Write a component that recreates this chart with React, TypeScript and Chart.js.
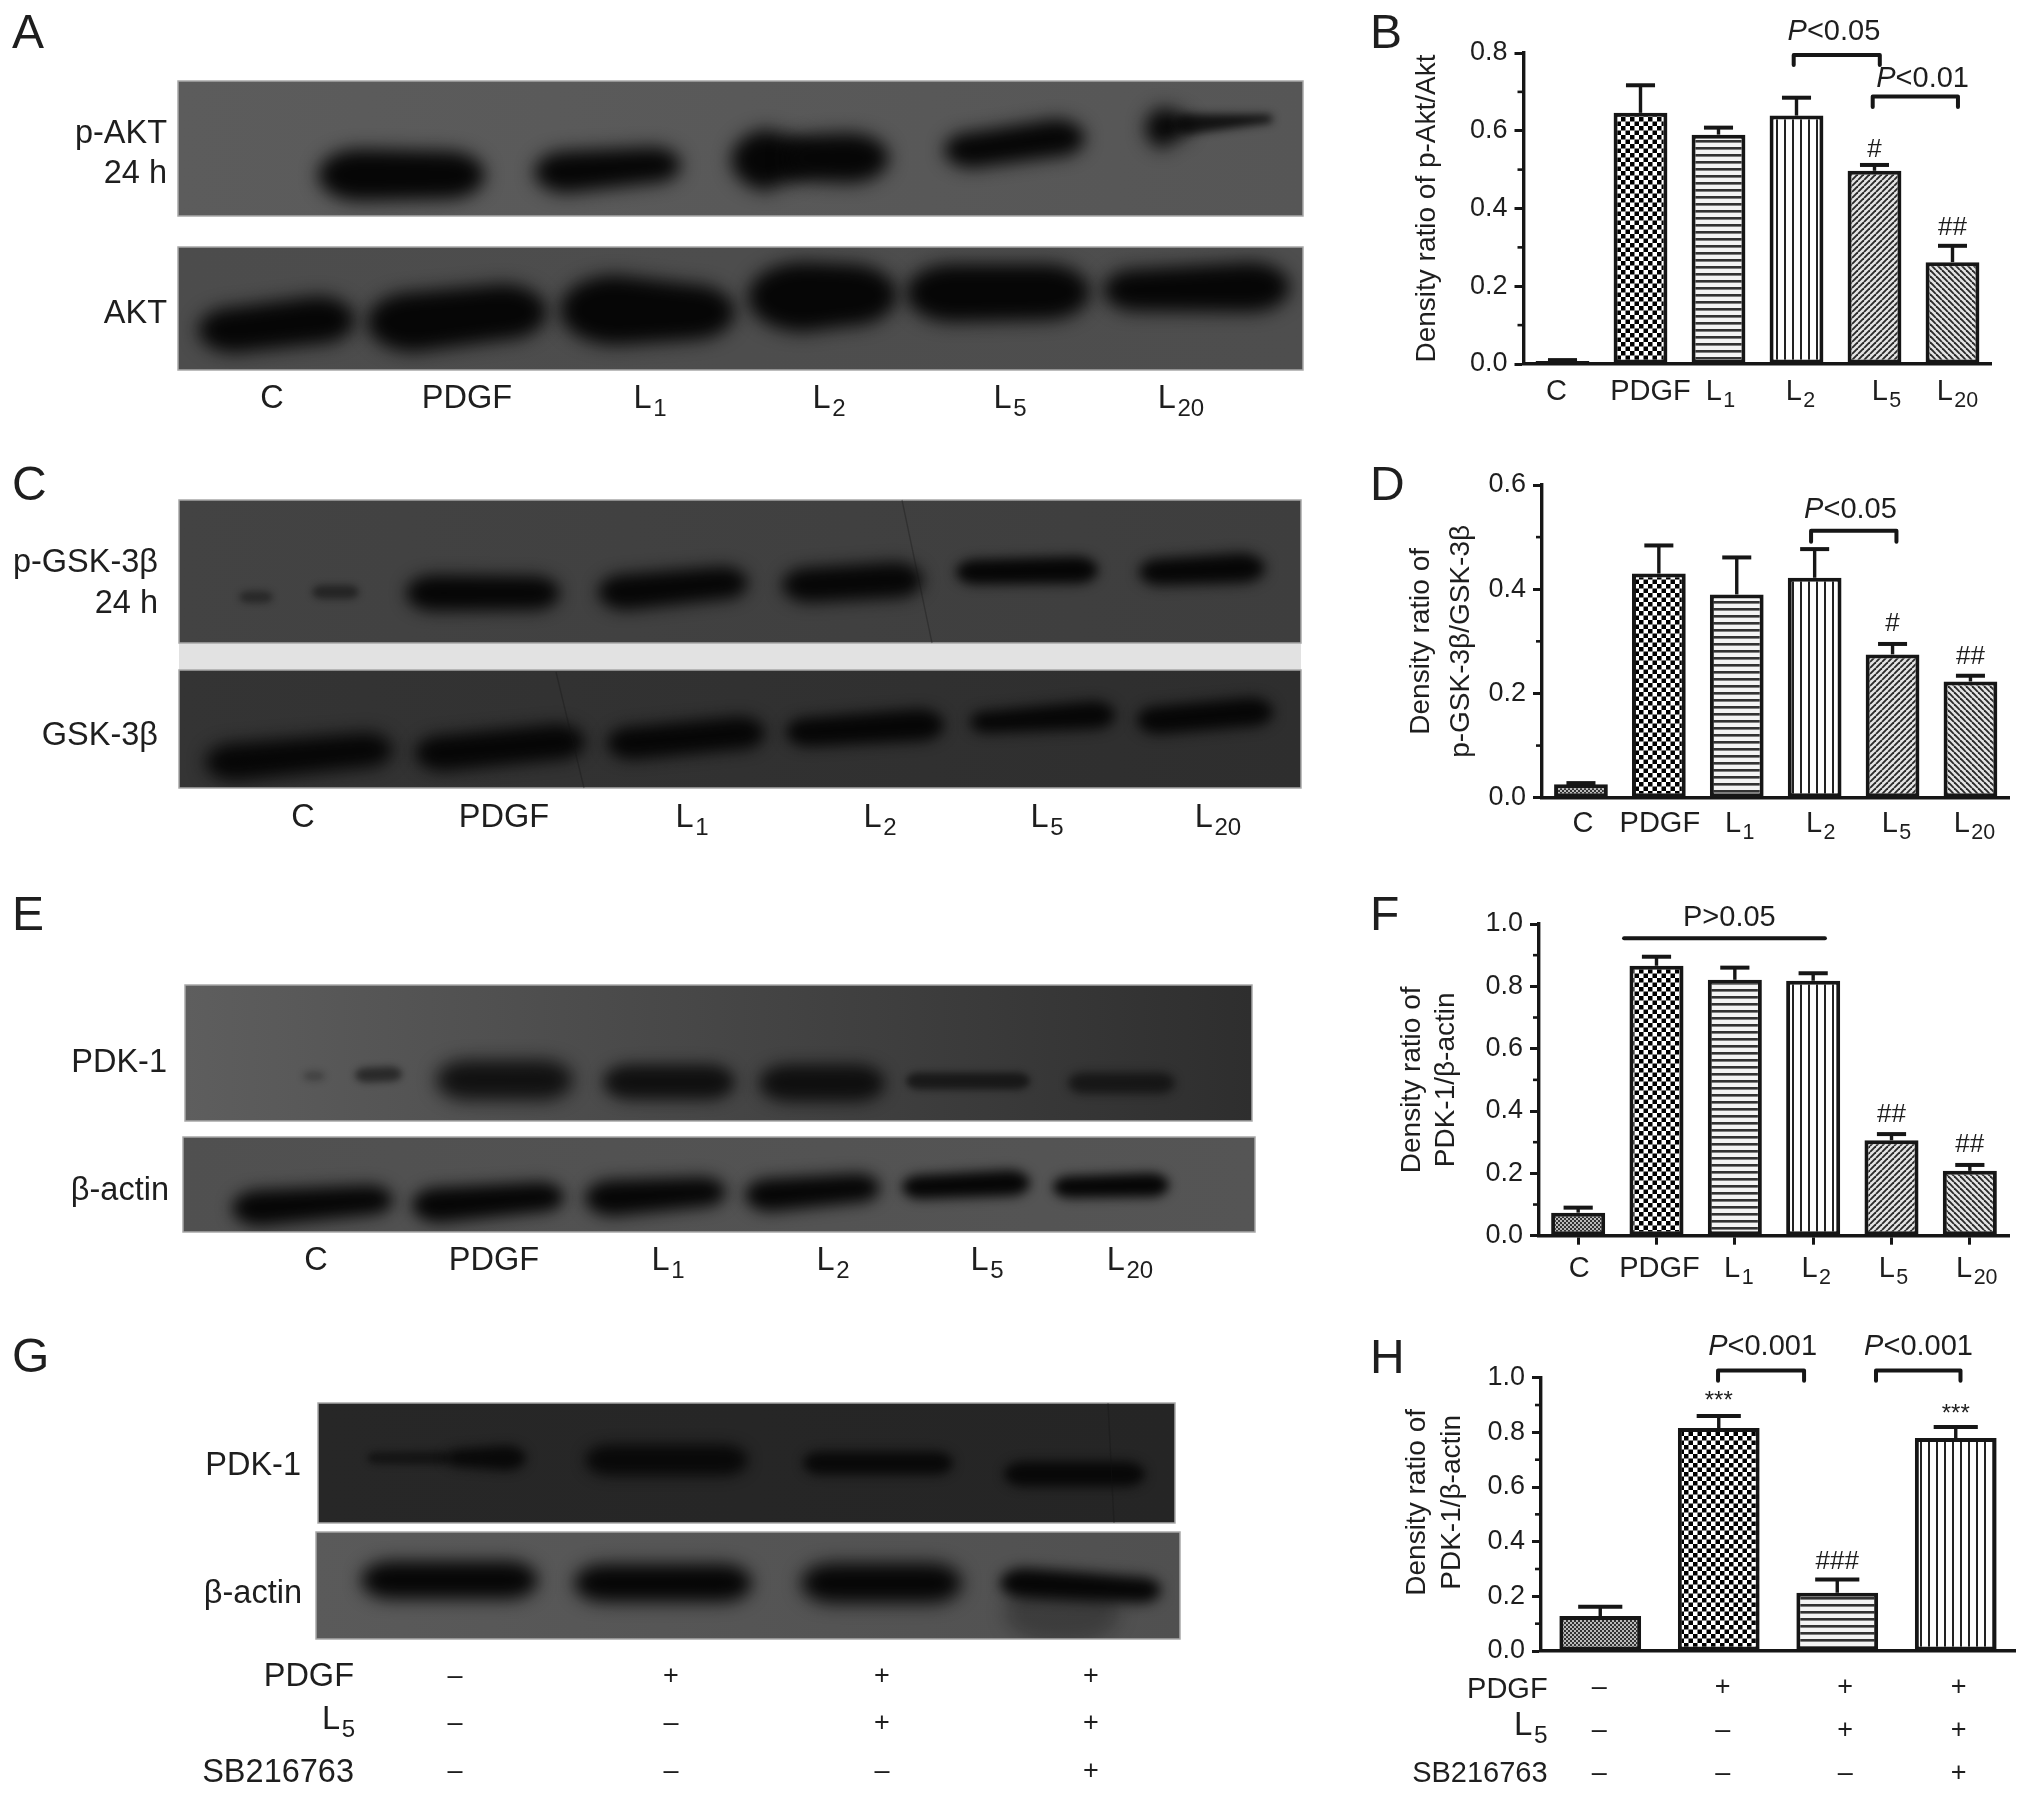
import React, { useEffect, useRef } from "react";
import { Chart, registerables } from "chart.js";

Chart.register(...registerables);

/* ---------- data ---------- */
const doseGroups = ["C", "PDGF", "L₁", "L₂", "L₅", "L₂₀"];
const treatmentGroups = ["Control", "PDGF", "PDGF + L₅", "PDGF + L₅ + SB216763"];

const pAktRatio = [0.008, 0.646, 0.59, 0.639, 0.497, 0.262];
const pAktUpper = [0.01, 0.717, 0.608, 0.685, 0.512, 0.304];

const pGskRatio = [0.026, 0.43, 0.39, 0.422, 0.275, 0.223];
const pGskUpper = [0.028, 0.484, 0.461, 0.477, 0.295, 0.234];

const pdkRatio = [0.074, 0.866, 0.821, 0.818, 0.306, 0.208];
const pdkUpper = [0.09, 0.895, 0.86, 0.842, 0.326, 0.227];

const pdkSbRatio = [0.128, 0.816, 0.213, 0.779];
const pdkSbUpper = [0.162, 0.86, 0.262, 0.82];

const pdgfSigns = ["–", "+", "+", "+"];
const l5Signs = ["–", "–", "+", "+"];
const sbSigns = ["–", "–", "–", "+"];

/* blot bands: x0, x1, yLeft, yRight, heightLeft, heightRight, darkness */
type Band = number[];
const pAktBands: Band[] = [
  [318, 485, 175, 175, 52, 48, 1], [534, 681, 172, 165, 42, 36, 1],
  [731, 815, 160, 159, 62, 52, 1], [785, 889, 158, 158, 48, 50, 1],
  [944, 1085, 150, 138, 36, 38, 1], [1145, 1190, 128, 126, 42, 32, 1],
  [1175, 1273, 124, 119, 20, 9, 0.85],
];
const aktBands: Band[] = [
  [198, 355, 330, 320, 46, 48, 1], [367, 547, 322, 312, 60, 56, 1],
  [560, 735, 310, 312, 70, 56, 1], [748, 897, 297, 295, 70, 62, 1],
  [906, 1090, 293, 292, 58, 56, 1], [1103, 1290, 290, 287, 42, 50, 1],
];
const pGskBands: Band[] = [
  [239, 273, 597, 597, 12, 12, 0.45], [312, 359, 592, 592, 14, 14, 0.5],
  [406, 560, 593, 593, 36, 34, 1], [598, 748, 592, 583, 36, 33, 1],
  [782, 923, 585, 580, 35, 36, 1], [956, 1098, 572, 570, 25, 27, 1],
  [1139, 1265, 572, 568, 27, 30, 1],
];
const gskBands: Band[] = [
  [205, 393, 762, 750, 38, 35, 1], [415, 585, 753, 742, 36, 36, 1],
  [607, 765, 743, 733, 33, 33, 1], [786, 944, 732, 725, 29, 32, 1],
  [970, 1115, 722, 715, 22, 28, 1], [1137, 1273, 720, 712, 28, 29, 1],
];
const pdkBands: Band[] = [
  [303, 325, 1076, 1076, 9, 9, 0.3], [355, 402, 1075, 1074, 15, 15, 0.55],
  [436, 573, 1080, 1080, 40, 40, 0.85], [603, 735, 1082, 1082, 35, 35, 0.85],
  [759, 885, 1083, 1083, 37, 37, 0.85], [906, 1030, 1081, 1081, 17, 17, 0.65],
  [1068, 1175, 1083, 1083, 21, 21, 0.65],
];
const actinBands: Band[] = [
  [232, 393, 1208, 1200, 36, 30, 1], [412, 564, 1205, 1197, 35, 30, 1],
  [585, 726, 1198, 1192, 36, 30, 1], [745, 880, 1195, 1188, 33, 29, 1],
  [902, 1030, 1187, 1183, 24, 26, 1], [1053, 1169, 1187, 1185, 22, 24, 1],
];
const pdkSbBands: Band[] = [
  [367, 450, 1458, 1458, 12, 14, 0.55], [445, 526, 1458, 1458, 18, 25, 0.9],
  [585, 748, 1460, 1460, 31, 31, 0.9], [803, 953, 1463, 1463, 23, 23, 0.9],
  [1004, 1145, 1474, 1474, 25, 25, 0.95],
];
const actinSbBands: Band[] = [
  [1004, 1120, 1612, 1612, 60, 60, 0.28],
  [361, 538, 1580, 1580, 38, 38, 1], [574, 752, 1583, 1583, 38, 38, 1],
  [801, 962, 1583, 1583, 40, 40, 1], [1000, 1161, 1583, 1590, 30, 26, 1],
];

/* ---------- patterns ---------- */
function tile(size: number, paint: (c: CanvasRenderingContext2D, s: number) => void) {
  const cv = document.createElement("canvas");
  cv.width = size;
  cv.height = size;
  const c = cv.getContext("2d")!;
  paint(c, size);
  return c.createPattern(cv, "repeat")!;
}
const INK = "#161616";
function checker(size: number, fg: string, bg: string) {
  return tile(size, (c, s) => {
    c.fillStyle = bg;
    c.fillRect(0, 0, s, s);
    c.fillStyle = fg;
    c.fillRect(0, 0, s / 2, s / 2);
    c.fillRect(s / 2, s / 2, s / 2, s / 2);
  });
}
function hStripes() {
  return tile(7, (c, s) => {
    c.fillStyle = "#f4f4f4";
    c.fillRect(0, 0, s, s);
    c.fillStyle = "#333";
    c.fillRect(0, 0, s, 2.6);
  });
}
function vStripes() {
  return tile(8, (c, s) => {
    c.fillStyle = "#fff";
    c.fillRect(0, 0, s, s);
    c.fillStyle = "#222";
    c.fillRect(0, 0, 2, s);
  });
}
function diag(forward: boolean) {
  return tile(6, (c, s) => {
    c.fillStyle = "#e4e4e4";
    c.fillRect(0, 0, s, s);
    c.strokeStyle = "#2a2a2a";
    c.lineWidth = 1.9;
    for (let k = -s; k <= s; k += s) {
      c.beginPath();
      if (forward) {
        c.moveTo(k, s);
        c.lineTo(k + s, 0);
      } else {
        c.moveTo(k, 0);
        c.lineTo(k + s, s);
      }
      c.stroke();
    }
  });
}

/* ---------- text helper: subscripts are drawn at a smaller size, lowered ---------- */
const FAMILY = '"Liberation Sans", Arial, sans-serif';
const TEXT = "#1e1e1e";
const SUBS = "₀₁₂₃₄₅₆₇₈₉";

function say(
  c: CanvasRenderingContext2D, text: string, x: number, y: number, size: number,
  align: CanvasTextAlign = "center", baseline: CanvasTextBaseline = "alphabetic", style = "",
) {
  c.textBaseline = baseline;
  c.fillStyle = TEXT;
  const first = [...text].findIndex((ch) => SUBS.includes(ch));
  if (first < 0) {
    c.font = `${style} ${size}px ${FAMILY}`;
    c.textAlign = align;
    c.fillText(text, x, y);
    return;
  }
  const main = text.slice(0, first);
  const sub = [...text.slice(first)].map((ch) => String(SUBS.indexOf(ch))).join("");
  const subSize = size * 0.74;
  c.textAlign = "left";
  c.font = `${style} ${size}px ${FAMILY}`;
  const mw = c.measureText(main).width;
  c.font = `${style} ${subSize}px ${FAMILY}`;
  const sw = c.measureText(sub).width;
  const gap = size * 0.05;
  const total = mw + gap + sw;
  const start = align === "right" ? x - total : align === "center" ? x - total / 2 : x;
  c.font = `${style} ${size}px ${FAMILY}`;
  c.fillText(main, start, y);
  c.font = `${style} ${subSize}px ${FAMILY}`;
  c.fillText(sub, start + mw + gap, y + size * 0.24);
}

/* ---------- bar panels ---------- */
const barPanels = [
  {
    id: "B", left: 1360, top: 0, width: 672, height: 440,
    plotLeft: 163.5, plotTop: 53, padRight: 40.5, axisBelow: 76,
    labels: doseGroups, values: pAktRatio, upper: pAktUpper, yMax: 0.8,
    title: "Density ratio of p-Akt/Akt", titleLine: 1.2, titlePad: 50,
    letterY: 48, labelDrop: 36, labelShift: [-6, 10, 2, 4, 12, 5], xTicks: false,
    brackets: [[2.964, 4.068, 0.795, 0.769], [3.977, 5.07, 0.688, 0.661]],
    pNotes: [["<0.05", 3.48, 0.854], ["<0.01", 4.617, 0.733]],
    marks: [["#", 4, 0.55], ["##", 5, 0.35]],
  },
  {
    id: "D", left: 1360, top: 440, width: 672, height: 430,
    plotLeft: 182, plotTop: 45, padRight: 22.6, axisBelow: 72.3,
    labels: doseGroups, values: pGskRatio, upper: pGskUpper, yMax: 0.6,
    title: ["Density ratio of", "p-GSK-3β/GSK-3β"], titleLine: 1.4, titlePad: 42,
    letterY: 60, labelDrop: 34, labelShift: [2, 1, 3, 6, 4, 4], xTicks: false,
    brackets: [[2.954, 4.05, 0.512, 0.491]],
    pNotes: [["<0.05", 3.46, 0.552]],
    marks: [["#", 4, 0.333], ["##", 5, 0.27]],
  },
  {
    id: "F", left: 1360, top: 870, width: 672, height: 440,
    plotLeft: 179, plotTop: 54, padRight: 23, axisBelow: 74.3,
    labels: doseGroups, values: pdkRatio, upper: pdkUpper, yMax: 1,
    title: ["Density ratio of", "PDK-1/β-actin"], titleLine: 1.22, titlePad: 35.4,
    letterY: 60, labelDrop: 41, labelShift: [1, 3, 4, 3, 2, 7], xTicks: true,
    brackets: [[0.586, 3.15, 0.954, 0.954]],
    pNotes: [],
    plainNotes: [["P>0.05", 1.93, 1.02]],
    marks: [["##", 4, 0.387], ["##", 5, 0.29]],
  },
  {
    id: "H", left: 1360, top: 1310, width: 672, height: 486,
    plotLeft: 181, plotTop: 67.7, padRight: 17, axisBelow: 145,
    labels: treatmentGroups, values: pdkSbRatio, upper: pdkSbUpper, yMax: 1,
    title: ["Density ratio of", "PDK-1/β-actin"], titleLine: 1.25, titlePad: 40,
    titleLift: 12,
    letterY: 63, labelDrop: 0, labelShift: [], xTicks: false,
    brackets: [[0.994, 1.72, 1.026, 0.989], [2.327, 3.04, 1.026, 0.989]],
    pNotes: [["<0.001", 1.37, 1.113], ["<0.001", 2.686, 1.113]],
    marks: [["###", 2, 0.325]],
    stars: [["***", 1, 0.912], ["***", 3, 0.867]],
    rows: [
      { label: "PDGF", signs: pdgfSigns, labelY: 388, signY: 378, size: 29 },
      { label: "L₅", signs: l5Signs, labelY: 425, signY: 421, size: 33 },
      { label: "SB216763", signs: sbSigns, labelY: 472, signY: 464, size: 29 },
    ],
    rowLabelX: 187.6,
    rowShift: [-1, 4, 8, 3],
  },
];

function barPlugin(p: any) {
  return {
    id: "panel" + p.id,
    afterDatasetsDraw(chart: any) {
      const c: CanvasRenderingContext2D = chart.ctx;
      const x = chart.scales.x;
      const y = chart.scales.y;
      const meta = chart.getDatasetMeta(0);
      c.save();
      // error bars
      c.strokeStyle = INK;
      p.upper.forEach((u: number, i: number) => {
        const px = x.getPixelForValue(i);
        const halfCap = meta.data[i].width * 0.27;
        const top = y.getPixelForValue(u);
        const base = y.getPixelForValue(p.values[i]);
        c.lineWidth = 3.4;
        c.beginPath();
        c.moveTo(px, base);
        c.lineTo(px, top);
        c.stroke();
        c.lineWidth = 4;
        c.beginPath();
        c.moveTo(px - halfCap, top);
        c.lineTo(px + halfCap, top);
        c.stroke();
      });
      // minor ticks
      c.lineWidth = 2.6;
      const a = chart.chartArea.left;
      for (let k = 1; k < Math.round(p.yMax * 10); k += 2) {
        const py = y.getPixelForValue(k / 10);
        c.beginPath();
        c.moveTo(a, py);
        c.lineTo(a - 6, py);
        c.stroke();
      }
      // brackets
      c.lineJoin = "round";
      c.lineCap = "round";
      c.lineWidth = 4;
      p.brackets.forEach((b: number[]) => {
        const l = x.getPixelForValue(b[0]);
        const r = x.getPixelForValue(b[1]);
        c.beginPath();
        c.moveTo(l, y.getPixelForValue(b[3]));
        c.lineTo(l, y.getPixelForValue(b[2]));
        c.lineTo(r, y.getPixelForValue(b[2]));
        c.lineTo(r, y.getPixelForValue(b[3]));
        c.stroke();
      });
      // P notes
      (p.pNotes || []).forEach((n: any[]) => {
        const size = 29;
        c.font = `${size}px ${FAMILY}`;
        const restW = c.measureText(n[0]).width;
        c.font = `italic ${size}px ${FAMILY}`;
        const pW = c.measureText("P").width;
        const cx = x.getPixelForValue(n[1]);
        const cy = y.getPixelForValue(n[2]);
        const startX = cx - (restW + pW) / 2;
        say(c, "P", startX, cy, size, "left", "middle", "italic");
        say(c, n[0], startX + pW, cy, size, "left", "middle");
      });
      (p.plainNotes || []).forEach((n: any[]) =>
        say(c, n[0], x.getPixelForValue(n[1]), y.getPixelForValue(n[2]), 29, "center", "middle"));
      (p.marks || []).forEach((n: any[]) =>
        say(c, n[0], x.getPixelForValue(n[1]), y.getPixelForValue(n[2]), 26, "center", "middle"));
      (p.stars || []).forEach((n: any[]) =>
        say(c, n[0], x.getPixelForValue(n[1]), y.getPixelForValue(n[2]), 24, "center", "middle"));
      // category labels
      if (p.labelShift.length) {
        p.labels.forEach((t: string, i: number) =>
          say(c, t, x.getPixelForValue(i) + p.labelShift[i], chart.chartArea.bottom + p.labelDrop, 29));
      }
      // condition table
      (p.rows || []).forEach((r: any) => {
        say(c, r.label, p.rowLabelX, r.labelY, r.size, "right");
        r.signs.forEach((s: string, i: number) =>
          say(c, s, x.getPixelForValue(i) + p.rowShift[i], r.signY, 27, "center", "middle"));
      });
      // a lifted axis title (its centre sits above the centre of the axis)
      if (p.titleLift) {
        const lines: string[] = p.title;
        const lh = 28 * p.titleLine;
        const midY = (chart.chartArea.top + chart.chartArea.bottom) / 2 - p.titleLift;
        c.save();
        c.translate(p.titlePad + lh / 2, midY);
        c.rotate(-Math.PI / 2);
        lines.forEach((t, i) => say(c, t, 0, i * lh, 28, "center", "middle"));
        c.restore();
      }
      say(c, p.id, 10, p.letterY, 48, "left");
      c.restore();
    },
  };
}

function makeBarChart(canvas: HTMLCanvasElement, p: any) {
  const fills = p.labels.length === 6
    ? [checker(4, "#333", "#bbb"), checker(9, "#000", "#fff"), hStripes(), vStripes(), diag(true), diag(false)]
    : [checker(4, "#333", "#bbb"), checker(9, "#000", "#fff"), hStripes(), vStripes()];
  return new Chart(canvas, {
    type: "bar",
    data: {
      labels: p.labels,
      datasets: [{
        data: p.values,
        backgroundColor: fills,
        borderColor: INK,
        borderWidth: 4,
        borderSkipped: false,
        barPercentage: 0.69,
        categoryPercentage: 1,
      }],
    },
    options: {
      responsive: false,
      animation: false,
      devicePixelRatio: 1,
      layout: { padding: { top: p.plotTop, right: p.padRight, left: 0, bottom: 0 } },
      plugins: { legend: { display: false }, tooltip: { enabled: false } },
      scales: {
        x: {
          type: "category",
          ticks: { display: false },
          grid: {
            display: true, drawOnChartArea: false, offset: false,
            drawTicks: p.xTicks, tickLength: 9, tickWidth: 3, tickColor: INK,
          },
          border: { color: INK, width: 3.4 },
          afterFit: (s: any) => { s.height = p.axisBelow; },
        },
        y: {
          min: 0,
          max: p.yMax,
          ticks: {
            stepSize: 0.1,
            autoSkip: false,
            maxRotation: 0,
            padding: 7,
            color: TEXT,
            font: { size: 27, family: FAMILY },
            callback: (v: any) => (Math.round(Number(v) * 10) % 2 === 0 ? Number(v).toFixed(1) : ""),
          },
          grid: {
            drawOnChartArea: false, drawTicks: true, tickLength: 9,
            tickWidth: 3,
            tickColor: (ctx: any) =>
              Math.round(ctx.tick.value * 10) % 2 === 0 ? INK : "rgba(0,0,0,0)",
          },
          border: { color: INK, width: 3.4 },
          title: {
            display: !p.titleLift,
            text: p.title,
            color: TEXT,
            font: { size: 28, family: FAMILY, lineHeight: p.titleLine },
            padding: { top: p.titlePad, bottom: 0 },
          },
          afterFit: (s: any) => { s.width = p.plotLeft; },
        },
      },
    } as any,
    plugins: [barPlugin(p)],
  } as any);
}

/* ---------- blot panels ---------- */
const blotPanels = [
  {
    id: "A", top: 0, height: 440, letterY: 48,
    membranes: [
      { x0: 178, x1: 1303, y0: 81, y1: 216, colors: ["#5c5c5c", "#565656"], bands: pAktBands },
      { x0: 178, x1: 1303, y0: 247, y1: 370, colors: ["#4c4c4c", "#4e4e4e"], bands: aktBands },
    ],
    texts: [
      ["p-AKT", 167, 143, "right"], ["24 h", 167, 183, "right"], ["AKT", 167, 323, "right"],
      ["C", 272, 408, "center"], ["PDGF", 467, 408, "center"], ["L₁", 650, 408, "center"],
      ["L₂", 829, 408, "center"], ["L₅", 1010, 408, "center"], ["L₂₀", 1181, 408, "center"],
    ],
    scratches: [],
  },
  {
    id: "C", top: 440, height: 430, letterY: 500,
    extra: { x0: 179, x1: 1301, y0: 643, y1: 670, color: "#e2e2e2" },
    membranes: [
      { x0: 179, x1: 1301, y0: 500, y1: 643, colors: ["#434343", "#3e3e3e"], bands: pGskBands },
      { x0: 179, x1: 1301, y0: 670, y1: 788, colors: ["#343434", "#2e2e2e"], bands: gskBands },
    ],
    texts: [
      ["p-GSK-3β", 158, 572, "right"], ["24 h", 158, 613, "right"], ["GSK-3β", 158, 745, "right"],
      ["C", 303, 827, "center"], ["PDGF", 504, 827, "center"], ["L₁", 692, 827, "center"],
      ["L₂", 880, 827, "center"], ["L₅", 1047, 827, "center"], ["L₂₀", 1218, 827, "center"],
    ],
    scratches: [[902, 500, 932, 643], [556, 672, 584, 788]],
  },
  {
    id: "E", top: 870, height: 440, letterY: 930,
    membranes: [
      { x0: 185, x1: 1252, y0: 985, y1: 1121, colors: ["#5e5e5e", "#2e2e2e"], bands: pdkBands },
      { x0: 183, x1: 1255, y0: 1137, y1: 1232, colors: ["#505050", "#555555"], bands: actinBands },
    ],
    texts: [
      ["PDK-1", 167, 1072, "right"], ["β-actin", 169, 1200, "right"],
      ["C", 316, 1270, "center"], ["PDGF", 494, 1270, "center"], ["L₁", 668, 1270, "center"],
      ["L₂", 833, 1270, "center"], ["L₅", 987, 1270, "center"], ["L₂₀", 1130, 1270, "center"],
    ],
    scratches: [],
  },
  {
    id: "G", top: 1310, height: 486, letterY: 1372,
    membranes: [
      { x0: 318, x1: 1175, y0: 1403, y1: 1523, colors: ["#272727", "#252525"], bands: pdkSbBands },
      { x0: 316, x1: 1180, y0: 1532, y1: 1639, colors: ["#5a5a5a", "#505050"], bands: actinSbBands },
    ],
    texts: [
      ["PDK-1", 301, 1475, "right"], ["β-actin", 302, 1603, "right"],
      ["PDGF", 354, 1686, "right"], ["L₅", 355, 1729, "right"], ["SB216763", 354, 1782, "right"],
    ],
    signRows: [[pdgfSigns, 1677], [l5Signs, 1724], [sbSigns, 1772]],
    signCols: [455, 671, 882, 1091],
    scratches: [[1108, 1403, 1114, 1523]],
  },
];

function blotPlugin(p: any) {
  return {
    id: "blot" + p.id,
    afterDatasetsDraw(chart: any) {
      const c: CanvasRenderingContext2D = chart.ctx;
      const X = (v: number) => chart.scales.x.getPixelForValue(v);
      const Y = (v: number) => chart.scales.y.getPixelForValue(v);
      c.save();
      if (p.extra) {
        c.fillStyle = p.extra.color;
        c.fillRect(X(p.extra.x0), Y(p.extra.y0), X(p.extra.x1) - X(p.extra.x0), Y(p.extra.y1) - Y(p.extra.y0));
      }
      p.membranes.forEach((m: any) => {
        const l = X(m.x0), r = X(m.x1), t = Y(m.y0), b = Y(m.y1);
        c.save();
        c.beginPath();
        c.rect(l, t, r - l, b - t);
        c.clip();
        const g = c.createLinearGradient(l, 0, r, 0);
        g.addColorStop(0, m.colors[0]);
        g.addColorStop(1, m.colors[1]);
        c.fillStyle = g;
        c.fillRect(l, t, r - l, b - t);
        m.bands.forEach((d: number[]) => {
          const [x0, x1, yl, yr, hl, hr, dark] = d;
          const a = X(x0), e = X(x1);
          const ya = Y(yl), ye = Y(yr);
          const rl = Math.min(hl * 0.8, (e - a) / 2);
          const rr = Math.min(hr * 0.8, (e - a) / 2);
          const soft = Math.max(3.5, Math.min(9, Math.max(hl, hr) * 0.22));
          c.filter = `blur(${soft}px)`;
          c.fillStyle = `rgba(6,6,6,${dark})`;
          c.beginPath();
          c.moveTo(a + rl, ya - hl / 2);
          c.lineTo(e - rr, ye - hr / 2);
          c.ellipse(e - rr, ye, rr, hr / 2, 0, -Math.PI / 2, Math.PI / 2);
          c.lineTo(a + rl, ya + hl / 2);
          c.ellipse(a + rl, ya, rl, hl / 2, 0, Math.PI / 2, (3 * Math.PI) / 2);
          c.closePath();
          c.fill();
        });
        c.filter = "none";
        c.restore();
        c.strokeStyle = "#a8a8a8";
        c.lineWidth = 1.5;
        c.strokeRect(l, t, r - l, b - t);
      });
      c.strokeStyle = "rgba(20,20,20,0.35)";
      c.lineWidth = 1.3;
      p.scratches.forEach((s: number[]) => {
        c.beginPath();
        c.moveTo(X(s[0]), Y(s[1]));
        c.lineTo(X(s[2]), Y(s[3]));
        c.stroke();
      });
      p.texts.forEach((t: any[]) => say(c, t[0], X(t[1]), Y(t[2]), 32.5, t[3]));
      (p.signRows || []).forEach((row: any[]) =>
        row[0].forEach((s: string, i: number) =>
          say(c, s, X(p.signCols[i]), Y(row[1]), 27, "center", "middle")));
      say(c, p.id, X(12), Y(p.letterY), 48, "left");
      c.restore();
    },
  };
}

function makeBlotChart(canvas: HTMLCanvasElement, p: any) {
  const points: any[] = [];
  p.membranes.forEach((m: any) =>
    m.bands.forEach((d: number[]) => points.push({ x: (d[0] + d[1]) / 2, y: (d[2] + d[3]) / 2 })));
  return new Chart(canvas, {
    type: "scatter",
    data: { datasets: [{ data: points, pointRadius: 0 }] },
    options: {
      responsive: false,
      animation: false,
      devicePixelRatio: 1,
      layout: { padding: 0 },
      plugins: { legend: { display: false }, tooltip: { enabled: false } },
      scales: {
        x: { type: "linear", display: false, min: 0, max: 1360 },
        y: { type: "linear", display: false, reverse: true, min: p.top, max: p.top + p.height },
      },
    } as any,
    plugins: [blotPlugin(p)],
  } as any);
}

export default function App() {
  const barRefs = useRef<(HTMLCanvasElement | null)[]>([]);
  const blotRefs = useRef<(HTMLCanvasElement | null)[]>([]);
  useEffect(() => {
    const charts = [
      ...barPanels.map((p, i) => makeBarChart(barRefs.current[i]!, p)),
      ...blotPanels.map((p, i) => makeBlotChart(blotRefs.current[i]!, p)),
    ];
    return () => charts.forEach((c) => c.destroy());
  }, []);
  const soft = "blur(0.55px)";
  return (
    <div style={{ position: "absolute", left: 0, top: 0, width: 2032, height: 1796, background: "#fff", overflow: "hidden" }}>
      {blotPanels.map((p, i) => (
        <canvas
          key={p.id}
          ref={(el) => { blotRefs.current[i] = el; }}
          width={1360}
          height={p.height}
          style={{ position: "absolute", left: 0, top: p.top, width: 1360, height: p.height, filter: soft }}
        />
      ))}
      {barPanels.map((p, i) => (
        <canvas
          key={p.id}
          ref={(el) => { barRefs.current[i] = el; }}
          width={p.width}
          height={p.height}
          style={{ position: "absolute", left: p.left, top: p.top, width: p.width, height: p.height, filter: soft }}
        />
      ))}
    </div>
  );
}
